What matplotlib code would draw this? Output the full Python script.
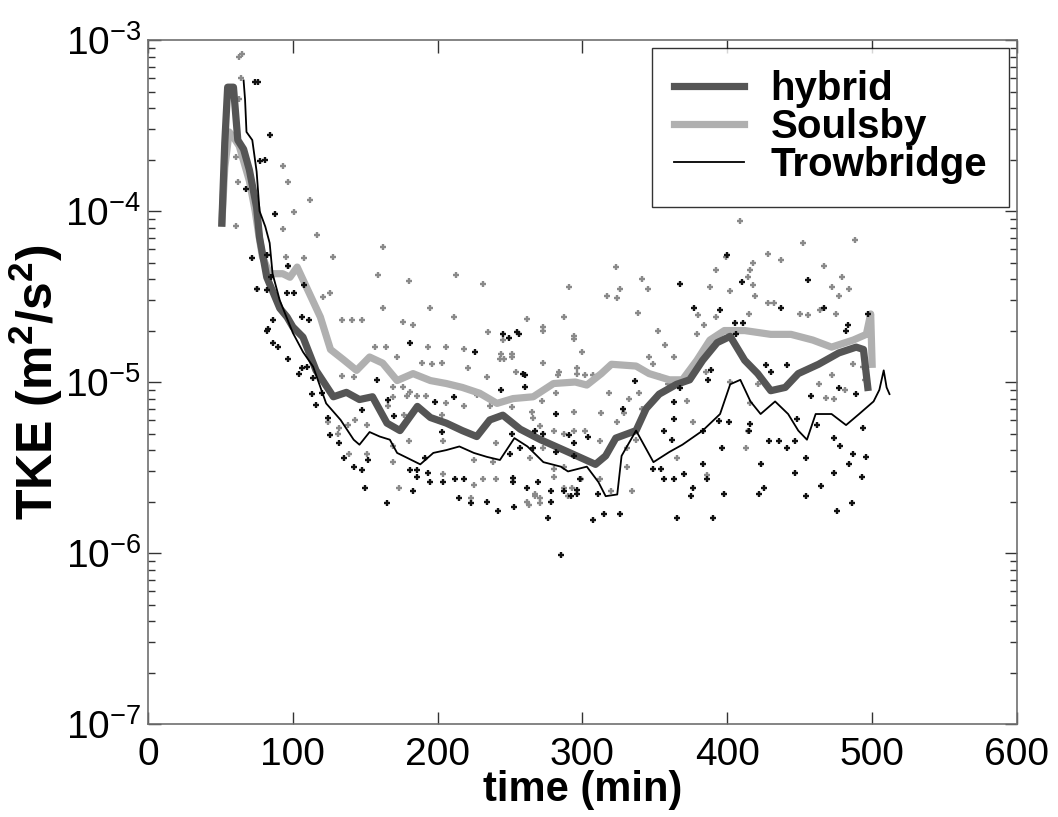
import matplotlib
matplotlib.use("Agg")
import matplotlib.pyplot as plt
from matplotlib.ticker import LogLocator, NullFormatter

plt.rcParams['font.family'] = ['Liberation Sans', 'DejaVu Sans']
plt.rcParams['mathtext.default'] = 'regular'

# smoothed TKE estimates
hybrid_t = [51, 53, 55, 59, 62, 66, 70, 75, 77, 82, 91, 96, 100, 107, 116, 128, 137, 146, 155,
            165, 174, 186, 195, 206, 217, 227, 236, 245, 257, 271, 290, 309, 316, 323, 337, 344,
            353, 365, 374, 383, 393, 402, 412, 421, 430, 440, 449, 463, 477, 489, 494, 497]
hybrid_tke = [8.5e-5, 2.5e-4, 5.3e-4, 5.3e-4, 2.6e-4, 2.3e-4, 1.74e-4, 1.05e-4, 7e-5, 4.1e-5,
              2.7e-5, 2.4e-5, 2.1e-5, 1.83e-5, 1.17e-5, 8.2e-6, 8.7e-6, 7.9e-6, 8.2e-6, 5.75e-6,
              5.2e-6, 7.2e-6, 6.2e-6, 5.75e-6, 5.2e-6, 4.8e-6, 6.0e-6, 6.4e-6, 5.3e-6, 4.6e-6,
              3.9e-6, 3.3e-6, 3.7e-6, 4.7e-6, 5.2e-6, 7e-6, 8.5e-6, 9.7e-6, 1.03e-5, 1.34e-5,
              1.7e-5, 1.85e-5, 1.34e-5, 1.12e-5, 8.9e-6, 9.3e-6, 1.12e-5, 1.27e-5, 1.48e-5,
              1.6e-5, 1.55e-5, 9.3e-6]

soulsby_t = [51, 53, 56, 59, 63, 70, 74, 76, 79, 84, 93, 98, 103, 110, 119, 126, 135, 144, 153,
             162, 172, 183, 195, 206, 217, 229, 241, 252, 266, 280, 295, 303, 313, 320, 337, 346,
             360, 369, 379, 388, 398, 412, 430, 444, 459, 472, 487, 496, 499, 500]
soulsby_tke = [8.5e-5, 1.8e-4, 2.9e-4, 2.7e-4, 2.4e-4, 1.5e-4, 1.0e-4, 7.7e-5, 5.4e-5, 4.3e-5,
               4.3e-5, 4.1e-5, 4.7e-5, 3.5e-5, 2.4e-5, 1.55e-5, 1.35e-5, 1.17e-5, 1.4e-5,
               1.29e-5, 1.02e-5, 1.12e-5, 1.02e-5, 9.8e-6, 9.3e-6, 8.6e-6, 7.5e-6, 8.0e-6,
               8.2e-6, 9.8e-6, 1.0e-5, 9.6e-6, 1.12e-5, 1.27e-5, 1.24e-5, 1.12e-5, 1.03e-5,
               1.03e-5, 1.34e-5, 1.76e-5, 2.0e-5, 2.0e-5, 1.9e-5, 1.9e-5, 1.76e-5, 1.6e-5,
               1.76e-5, 1.9e-5, 2.5e-5, 1.27e-5]

trow_t = [66, 67, 68, 72, 75, 77, 81, 84, 86, 91, 100, 107, 114, 123, 133, 142, 146, 153, 160,
          167, 172, 179, 188, 197, 206, 215, 225, 234, 243, 253, 262, 273, 285, 290, 303, 311,
          316, 324, 327, 337, 349, 360, 369, 383, 395, 402, 409, 416, 423, 433, 442, 449, 455,
          461, 472, 482, 491, 501, 505, 508, 510, 512]
trow_tke = [5.8e-4, 4.5e-4, 2.9e-4, 2.6e-4, 1.7e-4, 1.0e-4, 8.1e-5, 6.5e-5, 4.3e-5, 3.0e-5,
            1.94e-5, 1.5e-5, 1.23e-5, 7.5e-6, 6e-6, 4.6e-6, 4.3e-6, 5.1e-6, 4.8e-6, 4.6e-6,
            3.85e-6, 3.6e-6, 3.3e-6, 3.85e-6, 4.0e-6, 4.2e-6, 3.85e-6, 3.65e-6, 3.5e-6, 4.7e-6,
            4.2e-6, 3.4e-6, 3.2e-6, 3.0e-6, 3.2e-6, 2.6e-6, 2.15e-6, 2.2e-6, 3.7e-6, 5.2e-6,
            3.4e-6, 3.9e-6, 4.3e-6, 5.2e-6, 6.5e-6, 9.7e-6, 1.03e-5, 7.7e-6, 6.5e-6, 7.7e-6,
            6.5e-6, 5.2e-6, 4.6e-6, 6.5e-6, 6.5e-6, 5.6e-6, 6.5e-6, 7.7e-6, 9.0e-6, 1.17e-5,
            9.3e-6, 8.5e-6]

# raw estimates (dark = Trowbridge-like, light = Soulsby-like)
dark_t = [74, 76, 84, 77, 81, 88, 68, 72, 85, 101, 108, 106, 111, 86, 83, 82, 97, 75, 82, 96,
          82, 86, 90, 97, 106, 110, 104, 114, 113, 116, 120, 124, 126, 132, 135, 142, 148, 150,
          152, 148, 158, 166, 170, 165, 181, 181, 183, 186, 186, 193, 195, 191, 198, 203, 204,
          211, 212, 215, 218, 223, 226, 234, 242, 245, 249, 255, 259, 260, 252, 262, 276, 285,
          282, 294, 296, 298, 256, 400, 367, 410, 377, 437, 456, 467, 497, 405, 411, 483, 482,
          406, 395, 427, 441, 389, 387, 336, 260, 244, 367, 430, 458, 477, 489, 328, 363, 363,
          383, 356, 362, 394, 401, 416, 415, 448, 462, 474, 478, 494, 251, 267, 273, 291, 304,
          257, 266, 282, 294, 250, 396, 429, 436, 441, 447, 454, 496, 487, 349, 354, 356, 363,
          370, 383, 386, 423, 484, 493, 447, 474, 465, 252, 269, 278, 287, 292, 296, 253, 278,
          311, 425, 422, 376, 375, 398, 454, 486, 476, 307, 315, 326, 365, 390]
dark_tke = [5.7e-4, 5.7e-4, 2.8e-4, 1.96e-4, 2.0e-4, 9.6e-5, 1.35e-4, 5.3e-5, 4.1e-5, 3.3e-5,
            3.7e-5, 2.4e-5, 2.3e-5, 2.3e-5, 2.05e-5, 5.5e-5, 4.8e-5, 3.5e-5, 3.45e-5, 3.3e-5,
            2.0e-5, 1.7e-5, 1.6e-5, 1.37e-5, 1.2e-5, 1.22e-5, 1.12e-5, 1.05e-5, 8.5e-6, 7.3e-6,
            8.6e-6, 6.2e-6, 4.9e-6, 4.4e-6, 3.6e-6, 3.2e-6, 3.05e-6, 2.4e-6, 3.5e-6, 6.9e-6,
            1.03e-5, 7.9e-6, 6.3e-6, 1.95e-6, 1.7e-5, 3.05e-6, 2.3e-6, 3.05e-6, 2.8e-6, 2.95e-6,
            2.6e-6, 3.6e-6, 7.6e-6, 5.1e-6, 2.6e-6, 8.2e-6, 2.7e-6, 2.1e-6, 2.7e-6, 1.95e-6,
            1.5e-5, 2.0e-6, 1.75e-6, 1.9e-5, 1.8e-5, 1.95e-5, 1.12e-5, 9.4e-6, 2.75e-6, 2.4e-6,
            1.6e-6, 9.7e-7, 6.5e-6, 4.4e-6, 2.35e-6, 2.7e-6, 1.9e-5, 5.5e-5, 3.75e-5, 3.85e-5,
            2.7e-5, 2.7e-5, 3.95e-5, 2.7e-5, 2.5e-5, 2.2e-5, 2.2e-5, 2.15e-5, 2.0e-5, 1.92e-5,
            2.65e-5, 1.25e-5, 1.26e-5, 1.17e-5, 1.03e-5, 1.02e-5, 1.1e-5, 9.0e-6, 9.2e-6,
            1.14e-5, 8.3e-6, 9.2e-6, 8.5e-6, 7.0e-6, 7.6e-6, 6.1e-6, 5.2e-6, 5.2e-6, 4.6e-6,
            5.9e-6, 5.8e-6, 5.7e-6, 5.2e-6, 6.1e-6, 5.6e-6, 4.7e-6, 4.2e-6, 5.4e-6, 5.0e-6,
            5.2e-6, 5.0e-6, 4.9e-6, 4.8e-6, 4.1e-6, 4.1e-6, 3.9e-6, 3.7e-6, 3.8e-6, 4.1e-6,
            4.5e-6, 4.5e-6, 4.1e-6, 4.5e-6, 3.6e-6, 3.65e-6, 3.8e-6, 3.1e-6, 3.1e-6, 2.7e-6,
            2.7e-6, 2.9e-6, 3.3e-6, 2.7e-6, 3.3e-6, 3.3e-6, 2.8e-6, 2.95e-6, 2.95e-6, 2.45e-6,
            2.6e-6, 2.6e-6, 2.3e-6, 2.3e-6, 2.15e-6, 2.2e-6, 1.85e-6, 2.0e-6, 2.2e-6, 2.4e-6,
            2.2e-6, 2.4e-6, 2.15e-6, 2.2e-6, 2.15e-6, 1.95e-6, 1.75e-6, 1.55e-6, 1.7e-6, 1.7e-6,
            1.6e-6, 1.6e-6]

light_t = [65, 63, 64, 63, 61, 62, 61, 93, 97, 101, 112, 93, 117, 95, 108, 128, 97, 159, 162,
           180, 162, 195, 121, 126, 75, 134, 141, 148, 176, 183, 213, 231, 291, 211, 262, 287,
           273, 235, 294, 157, 164, 193, 206, 218, 244, 251, 300, 172, 189, 196, 203, 221, 273,
           254, 284, 296, 134, 142, 234, 169, 176, 181, 186, 192, 169, 179, 166, 206, 218, 227,
           282, 236, 243, 294, 124, 143, 151, 177, 203, 266, 271, 280, 294, 302, 131, 138, 169,
           180, 204, 240, 132, 169, 225, 238, 139, 151, 204, 231, 240, 173, 223, 225, 262, 271,
           287, 293, 267, 280, 299, 409, 488, 452, 428, 399, 437, 418, 323, 467, 416, 392, 479,
           484, 326, 341, 345, 414, 418, 472, 317, 324, 388, 402, 419, 477, 338, 380, 392, 415,
           428, 432, 450, 456, 464, 475, 273, 352, 357, 379, 384, 346, 363, 349, 283, 296, 302,
           307, 243, 246, 251, 245, 294, 353, 359, 385, 402, 421, 455, 463, 472, 487, 481, 494,
           495, 318, 332, 339, 372, 416, 468, 474, 272, 313, 329, 341, 251, 265, 376, 414, 413,
           324, 287, 312, 331, 337, 365, 264, 273, 280, 287, 312, 386, 334, 320, 263, 271, 267,
           290, 331]
light_tke = [8.3e-4, 8.0e-4, 6.0e-4, 4.5e-4, 2.07e-4, 1.48e-4, 8.2e-5, 1.83e-4, 1.48e-4, 9.9e-5,
             1.16e-4, 7.8e-5, 7.2e-5, 5.4e-5, 5.3e-5, 5.4e-5, 4.8e-5, 4.2e-5, 6.2e-5, 3.9e-5,
             2.7e-5, 2.7e-5, 3.15e-5, 3.3e-5, 3.5e-5, 2.3e-5, 2.3e-5, 2.3e-5, 2.25e-5, 2.15e-5,
             4.2e-5, 3.75e-5, 3.6e-5, 2.4e-5, 2.35e-5, 2.4e-5, 2.1e-5, 1.95e-5, 1.85e-5, 1.6e-5,
             1.6e-5, 1.6e-5, 1.6e-5, 1.55e-5, 1.45e-5, 1.45e-5, 1.5e-5, 1.4e-5, 1.3e-5, 1.28e-5,
             1.3e-5, 1.2e-5, 1.3e-5, 1.15e-5, 1.14e-5, 1.2e-5, 1.08e-5, 1.07e-5, 1.07e-5,
             9.4e-6, 9.3e-6, 8.8e-6, 8.3e-6, 8.3e-6, 8.2e-6, 8.3e-6, 7.2e-6, 7.5e-6, 7.2e-6,
             8.4e-6, 8.6e-6, 7.2e-6, 7.6e-6, 6.7e-6, 5.8e-6, 6.0e-6, 5.6e-6, 6.4e-6, 6.4e-6,
             6.2e-6, 5.5e-6, 5.2e-6, 5.2e-6, 5.2e-6, 5.0e-6, 5.6e-6, 4.2e-6, 4.5e-6, 4.5e-6,
             4.4e-6, 5.4e-6, 3.4e-6, 3.5e-6, 3.4e-6, 3.8e-6, 3.8e-6, 2.9e-6, 2.7e-6, 2.7e-6,
             2.4e-6, 2.1e-6, 2.5e-6, 2.0e-6, 2.1e-6, 2.4e-6, 2.4e-6, 2.2e-6, 3.1e-6, 2.7e-6,
             8.7e-5, 6.8e-5, 6.5e-5, 5.6e-5, 5.4e-5, 5.2e-5, 5.0e-5, 4.7e-5, 4.8e-5, 4.5e-5,
             4.5e-5, 4.1e-5, 3.5e-5, 3.5e-5, 4.0e-5, 3.5e-5, 4.1e-5, 3.7e-5, 3.6e-5, 3.2e-5,
             3.1e-5, 3.6e-5, 3.4e-5, 3.2e-5, 3.2e-5, 2.55e-5, 2.45e-5, 2.4e-5, 2.5e-5, 2.9e-5,
             2.9e-5, 2.5e-5, 2.45e-5, 2.65e-5, 2.5e-5, 2.0e-5, 2.0e-5, 1.65e-5, 1.9e-5, 2.15e-5,
             1.4e-5, 1.4e-5, 1.28e-5, 1.1e-5, 1.12e-5, 1.1e-5, 1.1e-5, 1.37e-5, 1.37e-5, 1.4e-5,
             1.76e-5, 1.78e-5, 1.08e-5, 9.7e-6, 1.15e-5, 1.0e-5, 9.8e-6, 1.17e-5, 9.8e-6,
             1.1e-5, 1.28e-5, 9.0e-6, 1.22e-5, 1.03e-5, 8.6e-6, 8.0e-6, 8.6e-6, 7.7e-6, 7.5e-6,
             8.1e-6, 8.0e-6, 7.7e-6, 6.6e-6, 6.6e-6, 7.0e-6, 7.1e-6, 6.7e-6, 5.8e-6, 5.2e-6,
             4.1e-6, 5.8e-6, 5.0e-6, 4.5e-6, 4.1e-6, 4.6e-6, 3.6e-6, 3.6e-6, 4.1e-6, 2.8e-6,
             3.2e-6, 2.7e-6, 2.85e-6, 2.3e-6, 2.3e-6, 1.9e-6, 1.95e-6, 2.15e-6, 2.15e-6, 3.2e-6]

fig = plt.figure(figsize=(10.58, 8.17), dpi=100)
ax = fig.add_axes([0.1399, 0.1138, 0.8213, 0.8372])

ax.plot(light_t, light_tke, linestyle='none', marker='+', ms=4.5, mew=1.7, color='#8a8a8a', zorder=1)
ax.plot(dark_t, dark_tke, linestyle='none', marker='+', ms=4.5, mew=1.7, color='#111111', zorder=4)

ax.plot(hybrid_t, hybrid_tke, color='#555555', lw=5.2, label='hybrid', zorder=3)
ax.plot(soulsby_t, soulsby_tke, color='#b0b0b0', lw=5.2, label='Soulsby', zorder=2)
ax.plot(trow_t, trow_tke, color='black', lw=1.3, label='Trowbridge', zorder=5)

ax.set_yscale('log')
ax.set_xlim(0, 600)
ax.set_ylim(1e-7, 1e-3)
ax.set_xticks([0, 100, 200, 300, 400, 500, 600])
ax.yaxis.set_major_locator(LogLocator(base=10, numticks=10))
ax.yaxis.set_minor_locator(LogLocator(base=10, subs=range(2, 10), numticks=10))
ax.yaxis.set_minor_formatter(NullFormatter())

ax.tick_params(which='both', direction='in', top=True, right=True, labelsize=28, color='#333333')
ax.tick_params(which='major', length=9, width=1)
ax.tick_params(which='minor', length=5, width=1)
ax.tick_params(axis='x', pad=9)
ax.tick_params(axis='y', pad=5)
for s in ax.spines.values():
    s.set_color('#707070')
    s.set_linewidth(1.2)

ax.set_xlabel('time (min)', fontsize=30, fontweight='bold', labelpad=-2)
ax.set_ylabel('TKE (m$^2$/s$^2$)', fontsize=36, fontweight='bold', labelpad=0)

leg = ax.legend(loc='upper right', prop={'weight': 'bold', 'size': 29},
                frameon=True, fancybox=False, edgecolor='black', handlelength=1.75,
                labelspacing=0.0, borderpad=0.55, handletextpad=0.65, borderaxespad=0,
                bbox_to_anchor=(0.991, 0.988))
leg.get_frame().set_linewidth(1.0)

fig.savefig('out.png', dpi=100)
